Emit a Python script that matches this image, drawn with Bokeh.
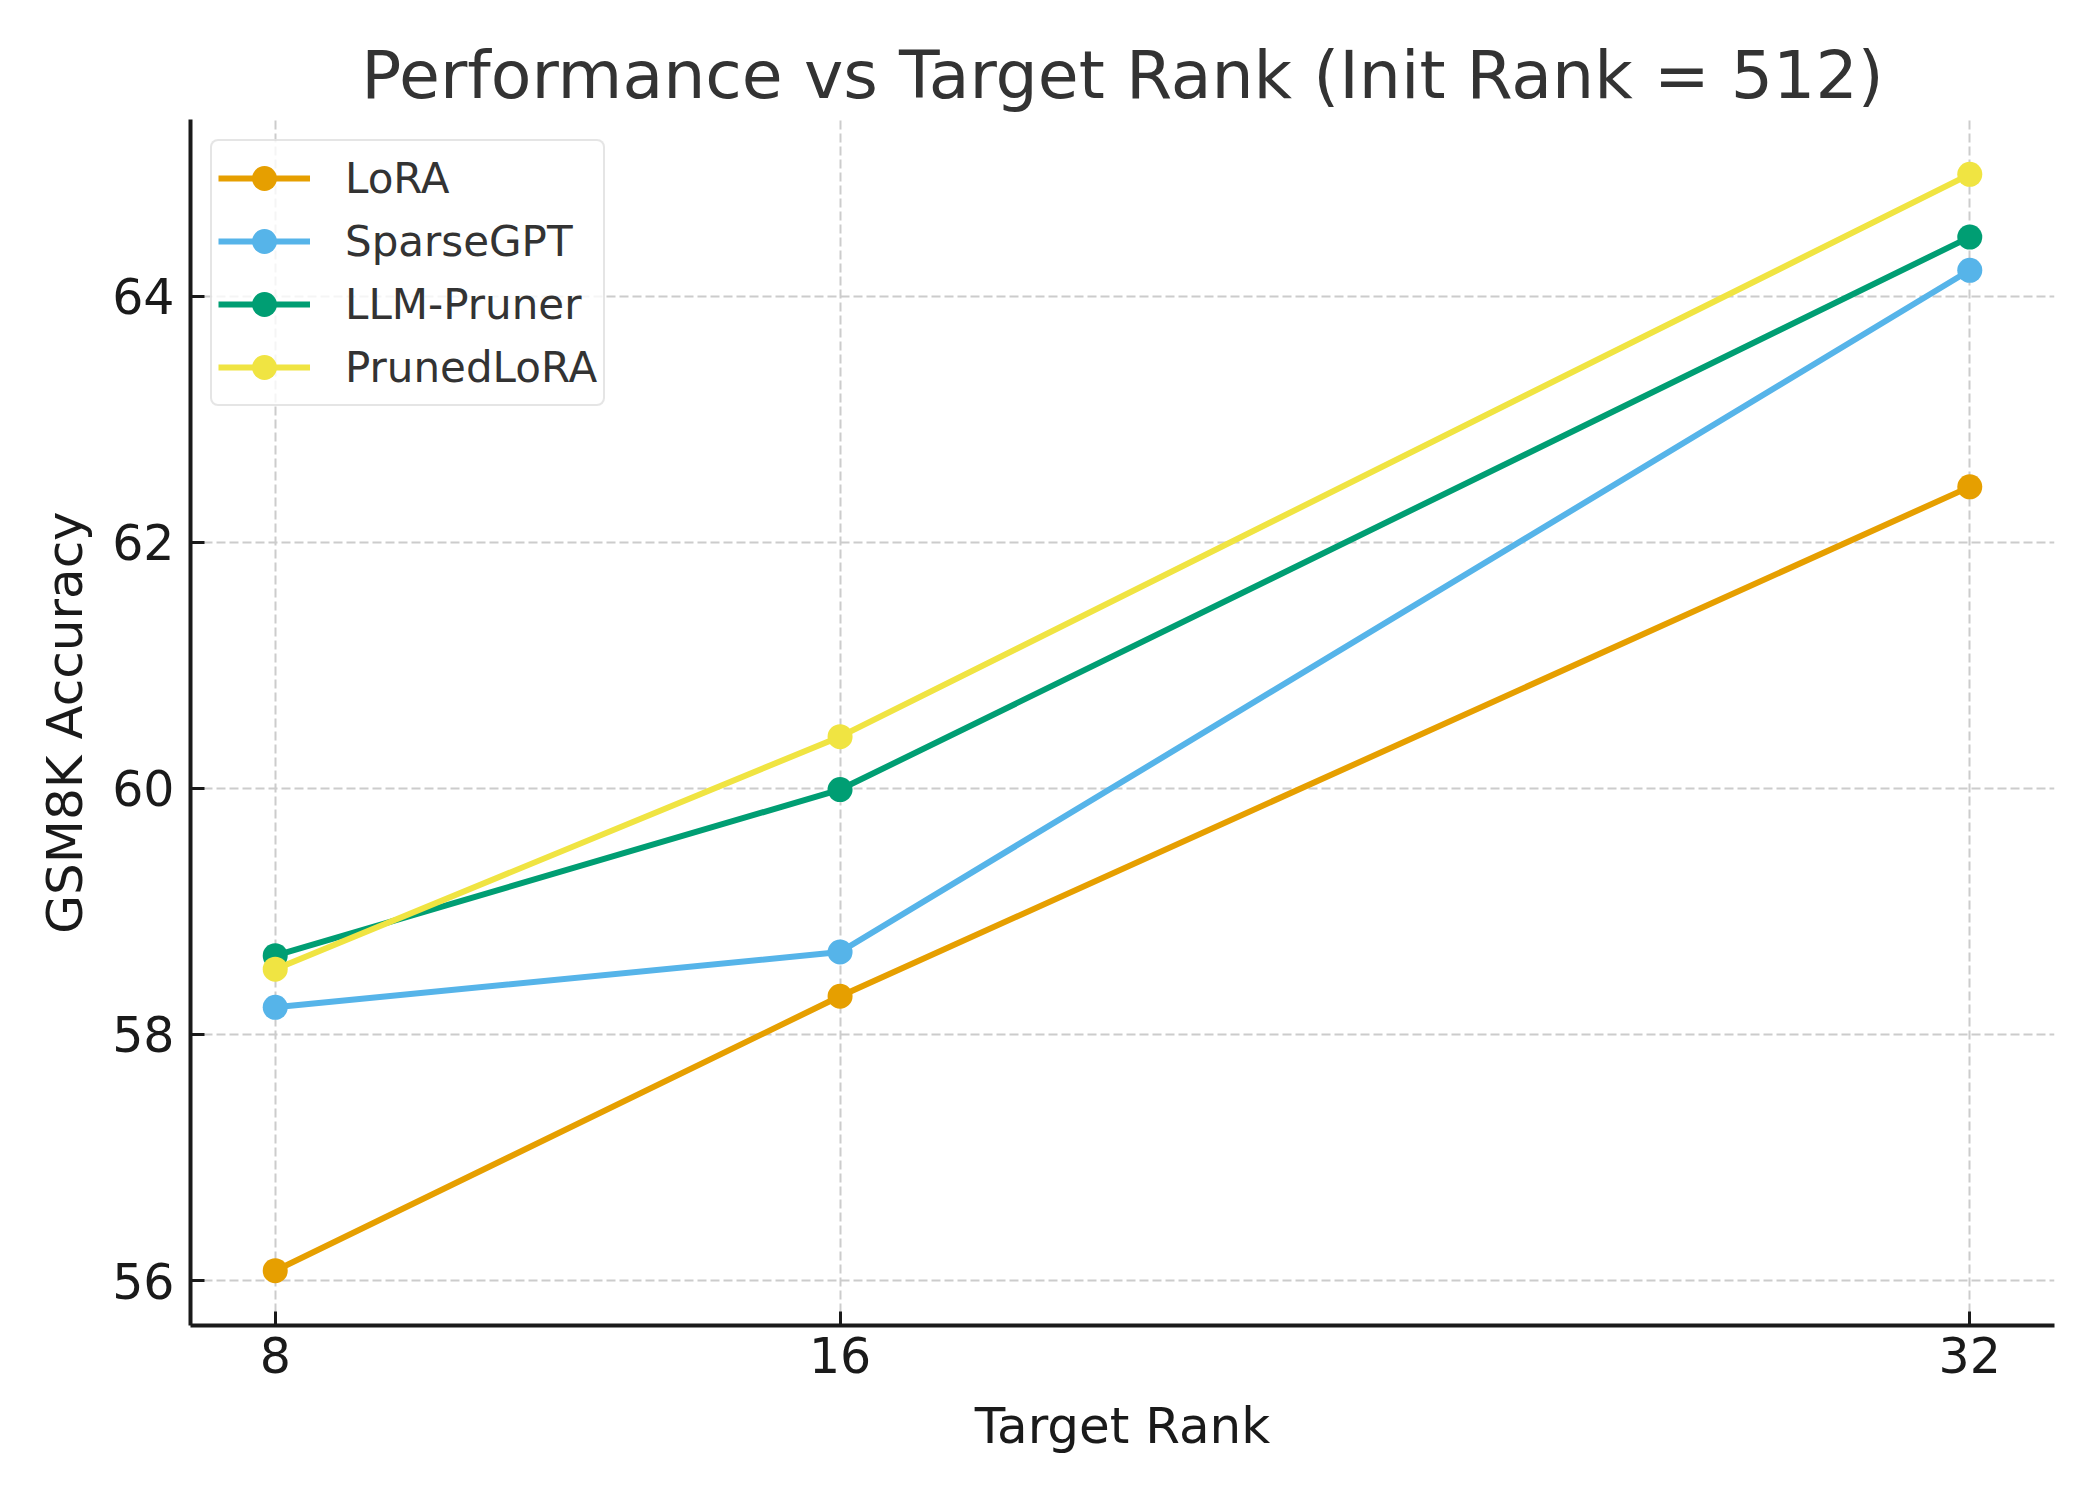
from bokeh.plotting import figure
from bokeh.models import Range1d
from bokeh.embed import file_html
from bokeh.resources import INLINE

ranks = [8, 16, 32]
lora = [56.08, 58.31, 62.45]
sparsegpt = [58.22, 58.67, 64.21]
llm_pruner = [58.64, 59.99, 64.48]
pruned_lora = [58.53, 60.42, 64.99]
series_names = ["LoRA", "SparseGPT", "LLM-Pruner", "PrunedLoRA"]
series_values = [lora, sparsegpt, llm_pruner, pruned_lora]
colors = ["#E69F00", "#56B4E9", "#009E73", "#F0E442"]
x_ticks = [8, 16, 32]
y_ticks = [56, 58, 60, 62, 64]
title_text = "Performance vs Target Rank (Init Rank = 512)"
x_label = "Target Rank"
y_label = "GSM8K Accuracy"

FONT = "DejaVu Sans"

# matplotlib-like 5% margins
xmin, xmax = min(ranks), max(ranks)
xpad = 0.05 * (xmax - xmin)
allv = [v for s in series_values for v in s]
ymin, ymax = min(allv), max(allv)
ypad = 0.05 * (ymax - ymin)

p = figure(width=2084, height=1484, output_backend="svg", toolbar_location=None,
           x_range=Range1d(xmin - xpad, xmax + xpad),
           y_range=Range1d(ymin - ypad, ymax + ypad),
           min_border_left=190, min_border_right=30,
           min_border_top=119, min_border_bottom=159,
           title=title_text)

p.title.text_font = FONT
p.title.text_font_size = "66.5px"
p.title.text_font_style = "normal"
p.title.text_color = "#333333"
p.title.align = "center"
p.title.standoff = 12

p.outline_line_color = None
p.background_fill_color = "white"
p.border_fill_color = "white"

for name, vals, c in zip(series_names, series_values, colors):
    p.line(ranks, vals, line_color=c, line_width=6, line_join="round", legend_label=name)
    p.scatter(ranks, vals, size=25, fill_color=c, line_color=c, line_width=0, legend_label=name)

for ax in [p.xaxis[0], p.yaxis[0]]:
    ax.axis_line_width = 4
    ax.axis_line_color = "#1a1a1a"
    ax.major_tick_in = 14
    ax.major_tick_out = 0
    ax.major_tick_line_width = 3
    ax.major_tick_line_color = "#1a1a1a"
    ax.minor_tick_line_color = None
    ax.major_label_text_font = FONT
    ax.major_label_text_font_size = "49px"
    ax.major_label_text_color = "#1a1a1a"
    ax.axis_label_text_font = FONT
    ax.axis_label_text_font_size = "50px"
    ax.axis_label_text_font_style = "normal"
    ax.axis_label_text_color = "#1a1a1a"

p.xaxis[0].ticker = x_ticks
p.yaxis[0].ticker = y_ticks
p.xaxis[0].axis_label = x_label
p.yaxis[0].axis_label = y_label
p.xaxis[0].major_label_standoff = 11
p.xaxis[0].axis_label_standoff = 21
p.yaxis[0].major_label_standoff = 16
p.yaxis[0].axis_label_standoff = 15

for g in [p.xgrid[0], p.ygrid[0]]:
    g.grid_line_color = "#cccccc"
    g.grid_line_dash = "9 4"
    g.grid_line_width = 2

lg = p.legend[0]
lg.location = "top_left"
lg.margin = 20
lg.padding = 6
lg.spacing = 1
lg.glyph_width = 92
lg.glyph_height = 62
lg.label_height = 62
lg.label_standoff = 35
lg.label_text_font = FONT
lg.label_text_font_size = "42px"
lg.label_text_color = "#333333"
lg.border_line_color = "#cccccc"
lg.border_line_width = 2.5
lg.border_radius = 8
lg.background_fill_color = "white"
lg.background_fill_alpha = 0.8

open("out.html", "w").write(file_html(p, INLINE))
